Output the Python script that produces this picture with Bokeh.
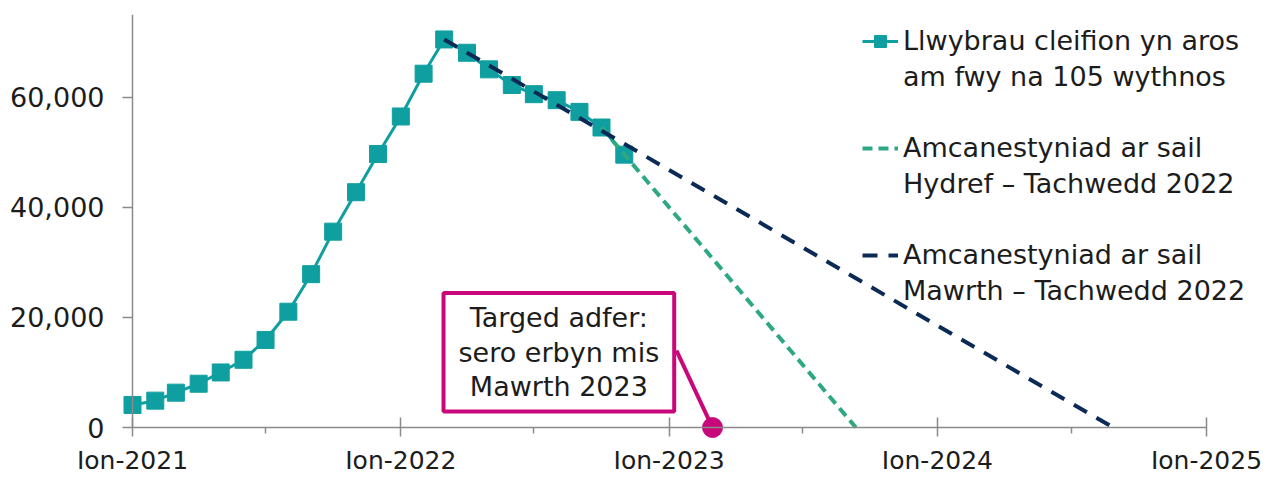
import pandas as pd
from bokeh.plotting import figure
from bokeh.models import (Range1d, FixedTicker, NumeralTickFormatter, Label, Legend,
                          LegendItem, LinearAxis)
from bokeh.embed import file_html
from bokeh.resources import INLINE

# ---- data ----
months = pd.date_range("2021-01-01", "2022-11-01", freq="MS")
waiting = [4100, 4880, 6330, 7950, 10000, 12300, 15900, 21030, 27850, 35570, 42730, 49670,
           56480, 64250, 70470, 68050, 65040, 62200, 60530, 59440, 57320, 54480, 49550]

proj_oct_dates = ["2022-10-01", "2023-09-12"]
proj_oct_values = [54480, 0]
proj_mar_dates = ["2022-03-01", "2024-08-27"]
proj_mar_values = [70470, 0]

target_date = "2023-03-01"
target_value = 0

x_tick_dates = ["2021-01-01", "2022-01-01", "2023-01-01", "2024-01-01", "2025-01-01"]
x_tick_labels = ["Ion-2021", "Ion-2022", "Ion-2023", "Ion-2024", "Ion-2025"]
x_minor_dates = ["2021-07-01", "2022-07-01", "2023-07-01", "2024-07-01"]
y_ticks = [0, 20000, 40000, 60000]
y_top = 75000

series_label = ["Llwybrau cleifion yn aros", "am fwy na 105 wythnos"]
proj_oct_label = ["Amcanestyniad ar sail", "Hydref \u2013 Tachwedd 2022"]
proj_mar_label = ["Amcanestyniad ar sail", "Mawrth \u2013 Tachwedd 2022"]
callout_text = "Targed adfer:\nsero erbyn mis\nMawrth 2023"

# annotation placement (data space)
callout_center_date = "2022-08-04"
callout_center_value = 13680
callout_edge_date = "2023-01-11"
callout_edge_value = 13950


def ms(d):
    return pd.Timestamp(d).value / 1e6


TEAL = "#0f9fa0"
GREEN = "#2ea883"
NAVY = "#0c2a56"
MAGENTA = "#c8077b"
TEXT = "#1c1c1c"
AXIS = "#8a8a8a"
FONT = "DejaVu Sans"

# layout: axes sit at Jan-2021 / 0 (x=132px, y=428px); the frame is a little larger
# so markers at the axes are not clipped, and wider so the legend fits.
AX_LEFT, AX_RIGHT, AX_TOP, AX_BOTTOM = 132, 1206, 14, 428
FR_LEFT, FR_RIGHT, FR_TOP, FR_BOTTOM = 120, 1264, 14, 440
W, H = 1269, 477

x_first = ms(x_tick_dates[0])
x_last = ms(x_tick_dates[-1])
ms_per_px = (x_last - x_first) / (AX_RIGHT - AX_LEFT)
val_per_px = y_top / (AX_BOTTOM - AX_TOP)
x_start = x_first - (AX_LEFT - FR_LEFT) * ms_per_px
x_end = x_last + (FR_RIGHT - AX_RIGHT) * ms_per_px
y_start = -(FR_BOTTOM - AX_BOTTOM) * val_per_px

p = figure(width=W, height=H, output_backend="svg", toolbar_location=None,
           x_range=Range1d(x_start, x_end),
           y_range=Range1d(y_start, y_top),
           min_border_left=FR_LEFT, min_border_right=W - FR_RIGHT,
           min_border_top=FR_TOP, min_border_bottom=H - FR_BOTTOM)
p.outline_line_color = None
p.xgrid.visible = False
p.ygrid.visible = False

xs = [ms(d) for d in months]
r_line = p.line(xs, waiting, line_color=TEAL, line_width=3)
r_sq = p.scatter(xs, waiting, marker="square", size=17, fill_color=TEAL, line_color=TEAL)
r_oct = p.line([ms(d) for d in proj_oct_dates], proj_oct_values, line_color=GREEN,
               line_width=4, line_dash="10 6")
r_mar = p.line([ms(d) for d in proj_mar_dates], proj_mar_values, line_color=NAVY,
               line_width=4, line_dash="15 11")
r_blank = p.line(x=[], y=[], line_alpha=0)

# callout connector and target point
p.line([ms(callout_edge_date), ms(target_date)], [callout_edge_value, target_value],
       line_color=MAGENTA, line_width=4)
p.scatter([ms(target_date)], [target_value], marker="circle", size=20,
          fill_color=MAGENTA, line_color=MAGENTA)

lab = Label(x=ms(callout_center_date), y=callout_center_value, text=callout_text,
            text_align="center", text_baseline="middle", text_font=FONT,
            text_font_size="27px", text_color=TEXT, text_line_height=1.12,
            border_line_color=MAGENTA, border_line_width=4,
            background_fill_color="white",
            padding=dict(left=15, right=15, top=9, bottom=9))
p.add_layout(lab)

x_major = [ms(d) for d in x_tick_dates]
x_minor = [ms(d) for d in x_minor_dates]
x_overrides = {m: l for m, l in zip(x_major, x_tick_labels)}

# axis lines + ticks, fixed at Jan-2021 / 0 (labels drawn by separate axes below)
xline = p.below[0]
xline.ticker = FixedTicker(ticks=x_major, minor_ticks=x_minor)
xline.bounds = (x_first, x_last)
xline.fixed_location = 0
xline.major_tick_in = 10
xline.major_tick_out = 9
xline.minor_tick_in = 0
xline.minor_tick_out = 6
xline.major_label_text_alpha = 0
xline.minor_tick_line_color = AXIS

yline = p.left[0]
yline.ticker = FixedTicker(ticks=y_ticks)
yline.bounds = (0, y_top)
yline.fixed_location = x_first
yline.major_tick_in = 0
yline.major_tick_out = 10
yline.major_label_text_alpha = 0
yline.minor_tick_line_color = None

for ax in (xline, yline):
    ax.axis_line_color = AXIS
    ax.axis_line_width = 1.5
    ax.major_tick_line_color = AXIS
    ax.major_tick_line_width = 1.5
    ax.minor_tick_line_width = 1.5

# label-only axes in the side panels
xlab = LinearAxis(ticker=FixedTicker(ticks=x_major), major_label_overrides=x_overrides,
                  axis_line_color=None, major_tick_line_color=None, minor_tick_line_color=None,
                  major_tick_in=0, major_tick_out=0, minor_tick_in=0, minor_tick_out=0,
                  major_label_standoff=6, major_label_text_font=FONT,
                  major_label_text_font_size="25px", major_label_text_color=TEXT)
p.add_layout(xlab, "below")

ylab = LinearAxis(ticker=FixedTicker(ticks=y_ticks), formatter=NumeralTickFormatter(format="0,0"),
                  axis_line_color=None, major_tick_line_color=None, minor_tick_line_color=None,
                  major_tick_in=0, major_tick_out=0, minor_tick_in=0, minor_tick_out=0,
                  major_label_standoff=16, major_label_text_font=FONT,
                  major_label_text_font_size="27px", major_label_text_color=TEXT)
p.add_layout(ylab, "left")

legend = Legend(items=[LegendItem(label=series_label[0], renderers=[r_line, r_sq]),
                       LegendItem(label=series_label[1], renderers=[r_blank]),
                       LegendItem(label=" ", renderers=[r_blank]),
                       LegendItem(label=proj_oct_label[0], renderers=[r_oct]),
                       LegendItem(label=proj_oct_label[1], renderers=[r_blank]),
                       LegendItem(label=" ", renderers=[r_blank]),
                       LegendItem(label=proj_mar_label[0], renderers=[r_mar]),
                       LegendItem(label=proj_mar_label[1], renderers=[r_blank])],
                location=(862 - FR_LEFT, FR_BOTTOM - 307), glyph_width=36, glyph_height=30,
                label_height=30, label_standoff=5, spacing=5, padding=0, margin=0,
                border_line_color=None, background_fill_alpha=0, label_text_font=FONT,
                label_text_font_size="27px", label_text_color=TEXT)
p.add_layout(legend)

open("out.html", "w").write(file_html(p, INLINE))
